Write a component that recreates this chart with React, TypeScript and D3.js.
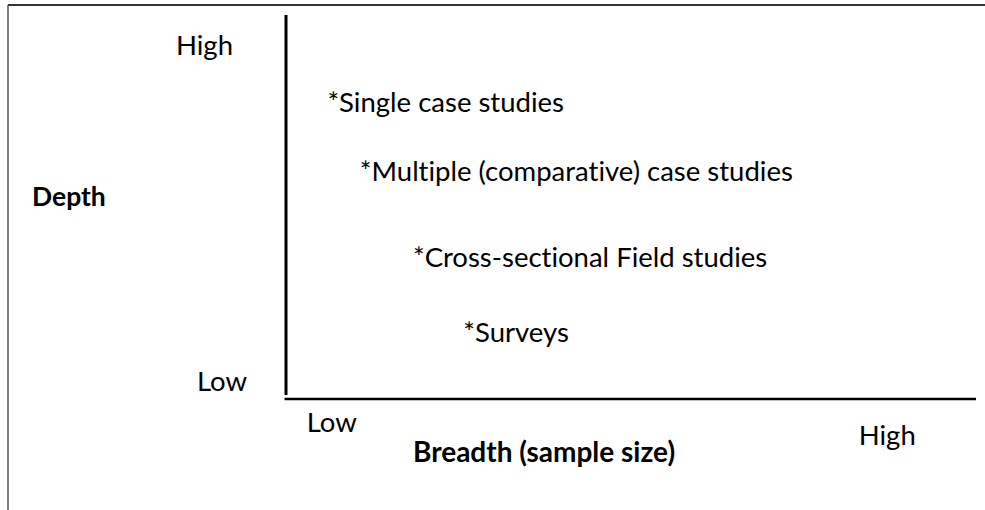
import React, { useEffect, useRef } from 'react';
import * as d3 from 'd3';

// research designs placed by breadth (x) and depth (y), 0-10 scale
const methods = ['*Single case studies', '*Multiple (comparative) case studies', '*Cross-sectional Field studies', '*Surveys'];
const breadth = [0.6, 1.07, 1.84, 2.57];
const depth = [7.45, 5.63, 3.37, 1.39];

const xTickLabels = ['Low', 'High'];
const xTickValues = [0.3, 8.3];
const yTickLabels = ['High', 'Low'];
const yTickValues = [8.95, 0.1];

const xTitle = 'Breadth (sample size)';
const yTitle = 'Depth';

export default function App() {
    const ref = useRef<SVGSVGElement>(null);

    useEffect(() => {
        const width = 985, height = 510;
        const margin = { top: 15, right: 9, bottom: 113, left: 286 };
        const svg = d3.select(ref.current);
        svg.selectAll('*').remove();
        svg.attr('width', width).attr('height', height)
            .style('font-variant-ligatures', 'none');

        const font = 'Lato, "Open Sans", sans-serif';
        const size = 27.5;

        // frame lines of the original picture
        svg.append('line')
            .attr('x1', 8).attr('x2', width).attr('y1', 5).attr('y2', 5)
            .attr('stroke', '#333').attr('stroke-width', 2);
        svg.append('line')
            .attr('x1', 8).attr('x2', 8).attr('y1', 5).attr('y2', height)
            .attr('stroke', '#555').attr('stroke-width', 1.5);

        const x = d3.scaleLinear().domain([0, 10]).range([margin.left, width - margin.right]);
        const y = d3.scaleLinear().domain([0, 10]).range([height - margin.bottom - 2, margin.top]);

        // axes
        svg.append('line')
            .attr('x1', x(0)).attr('x2', x(0))
            .attr('y1', y(10)).attr('y2', y(0))
            .attr('stroke', '#000').attr('stroke-width', 3);
        svg.append('line')
            .attr('x1', x(0) - 1.5).attr('x2', x(10))
            .attr('y1', y(0) + 4).attr('y2', y(0) + 4)
            .attr('stroke', '#000').attr('stroke-width', 2.5);

        // y tick labels, right aligned left of the axis
        svg.selectAll('.ytick')
            .data(yTickLabels)
            .enter()
            .append('text')
            .attr('class', 'ytick')
            .attr('x', (d, i) => i === 0 ? x(0) - 53 : x(0) - 39)
            .attr('y', (d, i) => y(yTickValues[i]))
            .attr('text-anchor', 'end')
            .attr('font-family', font)
            .attr('font-size', size)
            .text(d => d);

        // x tick labels
        svg.selectAll('.xtick')
            .data(xTickLabels)
            .enter()
            .append('text')
            .attr('class', 'xtick')
            .attr('x', (d, i) => x(xTickValues[i]))
            .attr('y', (d, i) => i === 0 ? 432 : 445)
            .attr('font-family', font)
            .attr('font-size', size)
            .text(d => d);

        // axis titles
        svg.append('text')
            .attr('x', 32).attr('y', 206)
            .attr('font-family', font).attr('font-size', 26.5).attr('font-weight', 'bold')
            .text(yTitle);
        svg.append('text')
            .attr('x', 413).attr('y', 462)
            .attr('font-family', font).attr('font-size', 28).attr('font-weight', 'bold')
            .text(xTitle);

        // methods
        svg.selectAll('.method')
            .data(methods)
            .enter()
            .append('text')
            .attr('class', 'method')
            .attr('x', (d, i) => x(breadth[i]))
            .attr('y', (d, i) => y(depth[i]))
            .attr('font-family', font)
            .attr('font-size', size)
            .text(d => d);
    }, []);

    return (
        <div>
            <svg ref={ref} style={{ position: 'absolute', left: 0, top: 0 }}></svg>
        </div>
    );
}
